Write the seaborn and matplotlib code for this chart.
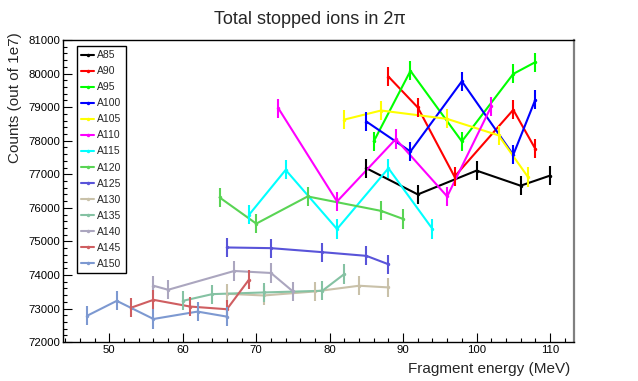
"""
Total stopped ions in 2pi against fragment energy, one curve per mass.
Values read off the reference picture.
"""

import matplotlib

matplotlib.use('Agg')
import matplotlib.pyplot as plt
import pandas as pd
import seaborn as sns
from matplotlib.ticker import MultipleLocator

# %% Data (fragment energy in MeV, counts out of 1e7)

E_A85 = [85, 92, 100, 106, 110]
N_A85 = [77180, 76400, 77110, 76660, 76960]
E_A90 = [88, 92, 97, 105, 108]
N_A90 = [79910, 78990, 76930, 78920, 77760]
E_A95 = [86, 91, 98, 105, 108]
N_A95 = [77980, 80080, 77980, 79990, 80340]
E_A100 = [85, 91, 98, 105, 108]
N_A100 = [78570, 77680, 79770, 77580, 79220]
E_A105 = [82, 87, 96, 103, 107]
N_A105 = [78630, 78900, 78650, 78160, 76920]
E_A110 = [73, 81, 89, 96, 102]
N_A110 = [78970, 76190, 78050, 76340, 79020]
E_A115 = [69, 74, 81, 88, 94]
N_A115 = [75790, 77130, 75370, 77180, 75370]
E_A120 = [65, 70, 77, 87, 90]
N_A120 = [76310, 75530, 76340, 75910, 75670]
E_A125 = [66, 72, 79, 85, 88]
N_A125 = [74820, 74800, 74680, 74570, 74320]
E_A130 = [66, 71, 78, 84, 88]
N_A130 = [73440, 73390, 73510, 73680, 73630]
E_A135 = [60, 64, 71, 79, 82]
N_A135 = [73230, 73430, 73480, 73530, 74030]
E_A140 = [56, 58, 67, 72, 75]
N_A140 = [73680, 73560, 74120, 74060, 73510]
E_A145 = [53, 56, 61, 66, 69]
N_A145 = [73030, 73260, 73060, 72980, 73860]
E_A150 = [47, 51, 56, 62, 66]
N_A150 = [72790, 73230, 72690, 72910, 72760]

COUNT_ERR = 285  # half length of the vertical error bars

LABELS = ['A85', 'A90', 'A95', 'A100', 'A105', 'A110', 'A115',
          'A120', 'A125', 'A130', 'A135', 'A140', 'A145', 'A150']
COLORS = ['#000000', '#ff0000', '#00ff00', '#0000ff', '#ffff00',
          '#ff00ff', '#00ffff', '#59d454', '#5954d9', '#c9c1a9',
          '#85c2a3', '#aba6bf', '#cf5e61', '#7d99d1']

series = [(E_A85, N_A85), (E_A90, N_A90), (E_A95, N_A95),
          (E_A100, N_A100), (E_A105, N_A105), (E_A110, N_A110),
          (E_A115, N_A115), (E_A120, N_A120), (E_A125, N_A125),
          (E_A130, N_A130), (E_A135, N_A135), (E_A140, N_A140),
          (E_A145, N_A145), (E_A150, N_A150)]

frames = []
for label, (e, n) in zip(LABELS, series):
    frames.append(pd.DataFrame({'energy': e, 'counts': n, 'mass': label}))
df = pd.concat(frames, ignore_index=True)

# %% Plot

sns.set_theme(style='white')
plt.rcParams['font.family'] = ['Liberation Sans', 'DejaVu Sans']

fig, ax = plt.subplots(figsize=(6.38, 3.81), dpi=100)
fig.subplots_adjust(left=0.099, right=0.900, top=0.895, bottom=0.102)

palette = dict(zip(LABELS, COLORS))
sns.lineplot(data=df, x='energy', y='counts', hue='mass',
             hue_order=LABELS, palette=palette, estimator=None,
             sort=False, linewidth=1.5, marker='o', markersize=2.5,
             markeredgewidth=0, ax=ax)

for label, (e, n) in zip(LABELS, series):
    ax.errorbar(e, n, yerr=COUNT_ERR, fmt='none', ecolor=palette[label],
                elinewidth=1.5, capsize=0)

ax.set_xlim(43.7, 113.3)
ax.set_ylim(72000, 81000)
ax.xaxis.set_major_locator(MultipleLocator(10))
ax.xaxis.set_minor_locator(MultipleLocator(2))
ax.yaxis.set_major_locator(MultipleLocator(1000))
ax.yaxis.set_minor_locator(MultipleLocator(200))
ax.tick_params(which='both', direction='in', width=0.8, colors='black',
               labelsize=8.2, pad=2, bottom=True, left=True,
               top=False, right=False)
ax.tick_params(which='major', length=6.5)
ax.tick_params(which='minor', length=3.2)

for side in ['left', 'bottom', 'top']:
    ax.spines[side].set_color('black')
    ax.spines[side].set_linewidth(1.0)
ax.spines['right'].set_color('#808080')
ax.spines['right'].set_linewidth(1.6)

ax.set_xlabel('Fragment energy (MeV)', fontsize=11, loc='right')
ax.xaxis.set_label_coords(0.992, -0.066)
ax.set_ylabel('Counts (out of 1e7)', fontsize=11, loc='top')
ax.yaxis.set_label_coords(-0.080, 1.026)

fig.text(0.486, 0.948, 'Total stopped ions in 2\u03c0', fontsize=13,
         ha='center', va='center')

leg = ax.legend(loc='upper left', bbox_to_anchor=(0.027, 0.98),
                borderaxespad=0, fontsize=7.5, handlelength=1.25,
                handletextpad=0.3, labelspacing=0.58, borderpad=0.4,
                fancybox=False, framealpha=1, edgecolor='black')
leg.get_frame().set_linewidth(1.0)

fig.savefig('out.png', dpi=100)
plt.close(fig)
